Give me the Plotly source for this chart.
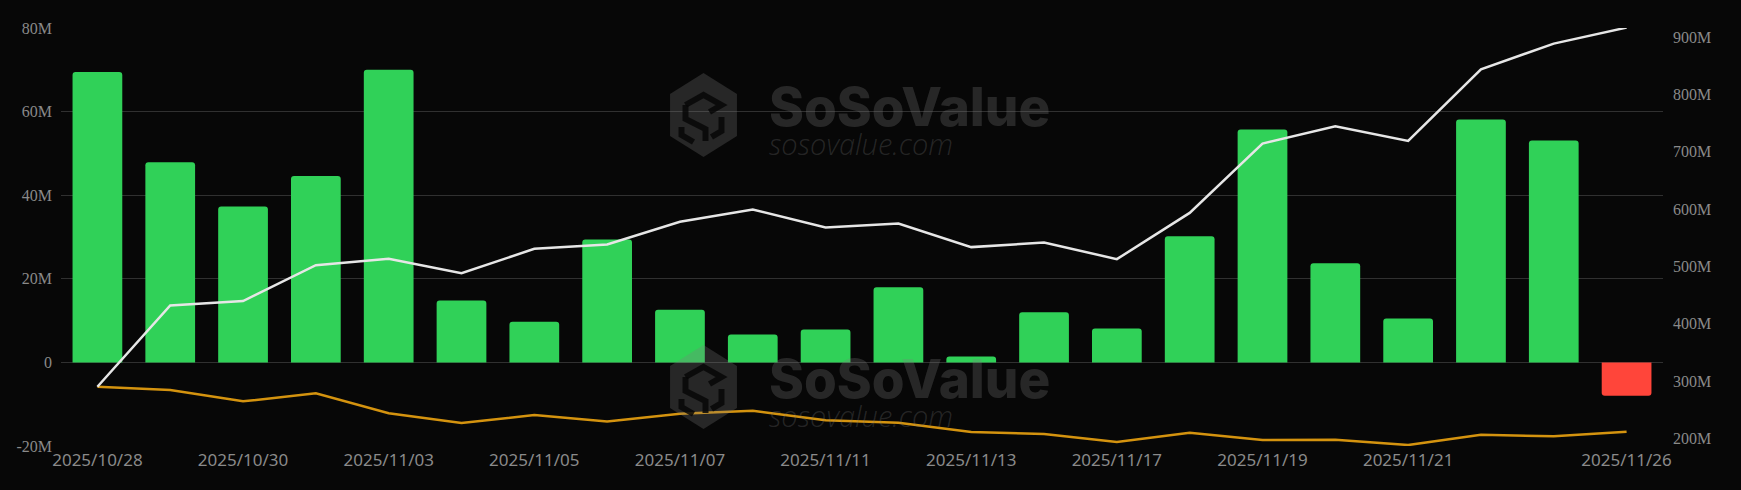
import math
import plotly.graph_objects as go

# ---------------- data ----------------
dates = ["2025/10/28", "2025/10/29", "2025/10/30", "2025/10/31", "2025/11/03",
         "2025/11/04", "2025/11/05", "2025/11/06", "2025/11/07", "2025/11/10",
         "2025/11/11", "2025/11/12", "2025/11/13", "2025/11/14", "2025/11/17",
         "2025/11/18", "2025/11/19", "2025/11/20", "2025/11/21", "2025/11/24",
         "2025/11/25", "2025/11/26"]
daily_flow_m = [69.5, 47.9, 37.3, 44.6, 70.0, 14.8, 9.7, 29.4, 12.6, 6.7, 7.9,
                18.0, 1.4, 12.0, 8.1, 30.2, 55.7, 23.7, 10.5, 58.1, 53.1, -8.0]
cum_inflow_m = [290.0, 431.8, 439.3, 502.0, 513.0, 488.0, 530.5, 538.0, 577.6,
                599.0, 567.8, 574.8, 533.5, 541.6, 512.5, 593.2, 714.2, 744.4,
                718.8, 843.7, 888.5, 916.4]
net_assets_m = [290.0, 284.2, 264.5, 278.4, 243.6, 226.7, 240.6, 229.5, 242.9,
                248.1, 231.4, 227.2, 211.0, 207.5, 193.6, 209.8, 197.0, 197.6,
                188.3, 206.3, 203.5, 211.5]
x_tick_labels = dates[0:20:2] + [dates[-1]]
left_ticks_m = [-20, 0, 20, 40, 60, 80]
left_tick_text = ["-20M", "0", "20M", "40M", "60M", "80M"]
right_ticks_m = [200, 300, 400, 500, 600, 700, 800, 900]
right_tick_text = ["200M", "300M", "400M", "500M", "600M", "700M", "800M", "900M"]

# ---------------- style ----------------
W, H = 1741, 490
ML, MR, MT, MB = 61, 78, 28, 44
BG = "#070707"
GREEN = "#30d158"
RED = "#ff453a"
WHITE_LINE = "#e6e6e6"
ORANGE = "#d4930f"
GRID = "#303030"
TICK = "#8a8a8a"
WM = "rgba(125,125,125,0.27)"

M = 1e6
bar_colors = [GREEN if v >= 0 else RED for v in daily_flow_m]

fig = go.Figure()
fig.add_trace(go.Bar(
    x=dates, y=[v * M for v in daily_flow_m],
    marker=dict(color=bar_colors, line=dict(width=0), cornerradius=3),
    yaxis="y", showlegend=False, hoverinfo="skip"))
fig.add_trace(go.Scatter(
    x=dates, y=[v * M for v in net_assets_m], mode="lines",
    line=dict(color=ORANGE, width=2.5), yaxis="y2", showlegend=False))
fig.add_trace(go.Scatter(
    x=dates, y=[v * M for v in cum_inflow_m], mode="lines",
    line=dict(color=WHITE_LINE, width=2.5), yaxis="y2", showlegend=False))

pw = W - ML - MR
ph = H - MT - MB


def px(xp):
    return (xp - ML) / pw


def py(yp):
    return (H - MB - yp) / ph


wm_text = ("<span style='font-family:Inter;font-size:53px;font-weight:800'>SoSoValue</span>"
           "<br><span style='font-family:Open Sans;font-size:29px;font-style:italic;"
           "font-weight:300'>sosovalue.com</span>")

shapes = []
annotations = []
for off in (0, 272):
    cx, cy, r = 703.5, 115 + off, 42
    pts = []
    for k in range(6):
        a = math.radians(90 + 60 * k)
        pts.append((cx + r * math.cos(a) * 0.92, cy - r * math.sin(a)))
    path = "M " + " L ".join(f"{px(a):.5f},{py(b):.5f}" for a, b in pts) + " Z"
    shapes.append(dict(type="path", path=path, xref="paper", yref="paper",
                       fillcolor=WM, line=dict(width=0), layer="above"))
    inner = [
        [(cx - 18, cy - 10), (cx, cy - 20), (cx + 18, cy - 10), (cx + 6, cy - 3)],
        [(cx - 18, cy - 10), (cx - 18, cy + 4), (cx + 2, cy + 14), (cx + 2, cy + 26)],
        [(cx + 18, cy + 2), (cx + 18, cy + 16), (cx + 8, cy + 22)],
        [(cx - 22, cy + 12), (cx - 22, cy + 20), (cx - 10, cy + 27)],
    ]
    for seg in inner:
        p2 = "M " + " L ".join(f"{px(a):.5f},{py(b):.5f}" for a, b in seg)
        shapes.append(dict(type="path", path=p2, xref="paper", yref="paper",
                           line=dict(color="rgba(7,7,7,0.85)", width=6),
                           layer="above"))
    annotations.append(dict(
        text=wm_text, x=px(768), y=py(74 + off), xref="paper", yref="paper",
        xanchor="left", yanchor="top", align="left", showarrow=False,
        borderpad=0, font=dict(family="Inter", size=22, color=WM)))

fig.update_layout(
    width=W, height=H,
    margin=dict(l=ML, r=MR, t=MT, b=MB),
    paper_bgcolor=BG, plot_bgcolor=BG,
    bargap=0.317,
    showlegend=False,
    xaxis=dict(type="category", range=[-0.5, len(dates) - 0.5],
               tickmode="array", tickvals=x_tick_labels, ticktext=x_tick_labels,
               showgrid=False, zeroline=False, showline=False, ticks="",
               tickfont=dict(family="Noto Sans", size=17, color=TICK),
               ticklabelstandoff=2),
    yaxis=dict(range=[-20 * M, 80 * M], tickmode="array",
               tickvals=[v * M for v in left_ticks_m], ticktext=left_tick_text,
               showgrid=True, gridcolor=GRID, gridwidth=1, zeroline=False,
               showline=False, ticks="",
               tickfont=dict(family="Liberation Serif", size=16, color=TICK),
               ticklabelstandoff=8),
    yaxis2=dict(overlaying="y", side="right", range=[186.6 * M, 915.7 * M],
                tickmode="array", tickvals=[v * M for v in right_ticks_m],
                ticktext=right_tick_text, showgrid=False, zeroline=False,
                showline=False, ticks="",
                tickfont=dict(family="Liberation Serif", size=16, color=TICK),
                ticklabelstandoff=9),
    shapes=shapes,
    annotations=annotations,
)

fig.write_html(
    "out.html",
    config={"displayModeBar": False},
    post_script="document.body.style.margin='0';document.body.style.background='#070707';",
)
